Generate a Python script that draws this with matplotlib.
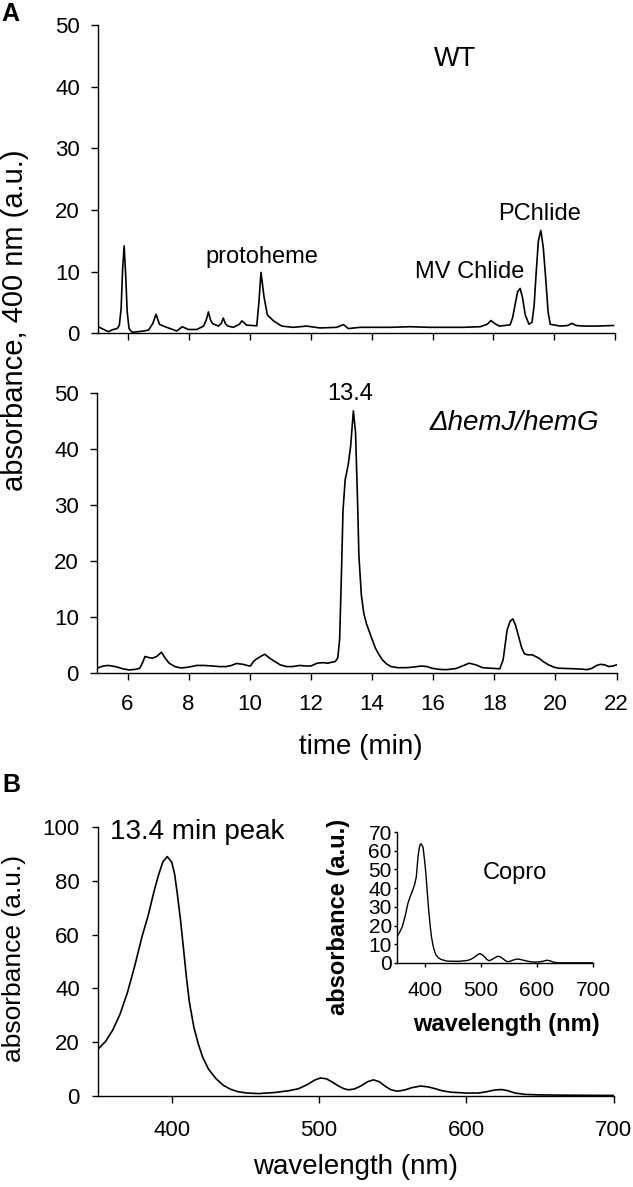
import matplotlib
matplotlib.use("Agg")
import matplotlib.pyplot as plt

plt.rcParams['font.family'] = ['Liberation Sans', 'DejaVu Sans']

# ---------------- data ----------------
# Panel A, WT chromatogram (time in min, absorbance at 400 nm)
wt_time = [5.0, 5.17, 5.34, 5.5, 5.63, 5.70, 5.76, 5.81, 5.86, 5.91, 5.96, 6.02, 6.10,
           6.16, 6.49, 6.66, 6.8, 6.91, 7.02, 7.15, 7.37, 7.59, 7.77, 7.97, 8.25, 8.47,
           8.56, 8.63, 8.70, 8.77, 8.96, 9.05, 9.12, 9.19, 9.27, 9.45, 9.65, 9.73, 9.81,
           9.89, 10.22, 10.29, 10.36, 10.42, 10.46, 10.57, 10.77, 11.04, 11.42, 11.86,
           12.3, 12.85, 13.07, 13.23, 13.62, 13.95, 14.6, 15.26, 15.9, 16.47, 17.0, 17.57,
           17.8, 17.92, 18.05, 18.2, 18.55, 18.63, 18.72, 18.80, 18.88, 18.96, 19.05,
           19.17, 19.27, 19.34, 19.41, 19.48, 19.56, 19.64, 19.72, 19.80, 19.87, 20.2,
           20.45, 20.58, 20.72, 20.96, 21.4, 21.95]
wt_abs = [1.1, 0.7, 0.3, 0.65, 0.8, 1.3, 4.0, 10.5, 14.2, 9.5, 3.5, 0.8, 0.3,
          0.2, 0.4, 0.55, 1.6, 3.1, 1.5, 1.2, 0.8, 0.4, 1.1, 0.65, 0.65, 1.2,
          2.2, 3.5, 2.2, 1.6, 1.2, 1.6, 2.5, 1.6, 1.2, 1.0, 1.5, 2.05, 1.7,
          1.35, 1.25, 5.0, 9.9, 7.5, 5.9, 3.0, 2.05, 1.2, 1.0, 1.2,
          0.9, 1.0, 1.45, 0.8, 1.0, 1.0, 1.0, 1.1, 1.0, 1.0, 1.0, 1.1,
          1.5, 2.1, 1.6, 1.2, 1.4, 2.5, 4.8, 6.8, 7.3, 5.8, 3.0,
          1.5, 1.8, 4.5, 10.0, 15.0, 16.7, 14.0, 9.0, 3.5, 1.5, 1.2,
          1.3, 1.65, 1.3, 1.2, 1.2, 1.3]

# Panel A, delta hemJ/hemG chromatogram
mut_time = [5.0, 5.2, 5.37, 5.6, 5.85, 6.05, 6.25, 6.4, 6.5, 6.57, 6.7, 6.82, 6.95,
            7.11, 7.22, 7.36, 7.55, 7.75, 8.0, 8.25, 8.5, 8.79, 9.0, 9.23, 9.4, 9.56,
            9.78, 9.95, 10.02, 10.12, 10.22, 10.35, 10.49, 10.65, 10.82, 11.0, 11.2,
            11.4, 11.64, 11.85, 12.0, 12.2, 12.4, 12.55, 12.7, 12.8, 12.88, 12.94,
            13.0, 13.05, 13.12, 13.22, 13.3, 13.39, 13.46, 13.53, 13.57, 13.65, 13.73,
            13.82, 13.92, 14.02, 14.11, 14.22, 14.34, 14.47, 14.62, 14.85, 15.1, 15.35,
            15.61, 15.8, 15.96, 16.2, 16.43, 16.75, 17.0, 17.18, 17.4, 17.62, 17.9,
            18.18, 18.29, 18.42, 18.52, 18.61, 18.7, 18.8, 18.9, 18.99, 19.1, 19.24,
            19.35, 19.46, 19.6, 19.78, 19.95, 20.11, 20.4, 20.66, 20.85, 21.04, 21.2,
            21.35, 21.48, 21.62, 21.75, 21.88, 22.0]
mut_abs = [0.9, 1.3, 1.4, 1.2, 0.8, 0.6, 0.7, 0.9, 2.0, 3.0, 2.8, 2.7, 3.0,
           3.75, 2.8, 1.8, 1.2, 0.95, 1.1, 1.4, 1.4, 1.3, 1.2, 1.2, 1.4, 1.75,
           1.6, 1.35, 1.3, 2.1, 2.55, 3.0, 3.4, 2.7, 2.1, 1.5, 1.2,
           1.2, 1.4, 1.3, 1.3, 1.8, 1.9, 1.8, 2.0, 2.1, 2.8, 6.0,
           18.0, 29.0, 34.5, 37.2, 40.5, 46.8, 43.0, 30.0, 21.0, 14.0, 10.7,
           8.8, 7.3, 5.8, 4.5, 3.4, 2.4, 1.7, 1.2, 1.0, 1.0, 1.1,
           1.3, 1.2, 0.9, 0.7, 0.65, 0.85, 1.4, 1.8, 1.5, 1.0, 0.9,
           0.8, 2.4, 7.7, 9.3, 9.7, 8.5, 6.5, 4.5, 3.45, 3.3, 3.3,
           3.0, 2.7, 2.1, 1.5, 1.1, 0.9, 0.85, 0.8, 0.75, 0.65, 0.9,
           1.4, 1.6, 1.5, 1.2, 1.3, 1.5]

# Panel B, absorption spectrum of the 13.4 min peak
peak_wl = [350, 355, 360, 365, 370, 375, 380, 384, 388, 391, 394, 397, 400, 402,
           404, 406, 408, 410, 412, 415, 418, 421, 425, 430, 435, 440, 445, 451,
           459, 470, 480, 486, 492, 497, 501, 505, 509, 513, 517, 520, 524, 528,
           533, 537, 541, 545, 549, 553, 558, 563, 569, 574, 579, 584, 590, 600,
           608, 613, 619, 624, 628, 633, 640, 650, 670, 700]
peak_abs = [17.4, 20.2, 24.5, 30.5, 38.5, 48.5, 59.5, 67.0, 76.0, 82.0, 87.0, 89.0,
            87.0, 82.5, 74.5, 65.5, 55.0, 44.3, 35.0, 25.8, 19.5, 14.5, 10.0, 6.5,
            4.0, 2.5, 1.6, 1.1, 0.9, 1.3, 2.0, 2.7, 4.2, 5.9, 6.7, 6.4, 5.2, 3.8,
            2.7, 2.3, 2.6, 3.6, 5.3, 6.0, 5.3, 3.6, 2.3, 1.8, 2.2, 3.1, 3.7, 3.4,
            2.7, 1.9, 1.4, 1.1, 1.1, 1.5, 2.2, 2.4, 2.0, 1.1, 0.6, 0.4, 0.3, 0.2]

# Inset, coproporphyrin standard spectrum
copro_wl = [350, 355, 360, 365, 370, 374, 378, 382, 385, 388, 390, 392, 394, 397,
            400, 402, 405, 407, 410, 412, 415, 418, 420, 425, 430, 440, 460, 475,
            482, 488, 494, 498, 502, 507, 511, 515, 520, 525, 530, 534, 539, 544,
            548, 553, 558, 563, 567, 573, 580, 588, 595, 605, 612, 618, 623, 630,
            640, 700]
copro_abs = [14.0, 16.3, 19.4, 25.0, 31.9, 35.5, 38.5, 42.0, 46.1, 56.8, 61.0, 63.5,
             63.6, 61.8, 54.0, 47.9, 36.0, 28.3, 19.0, 14.0, 9.0, 5.8, 4.3, 2.6,
             1.8, 1.0, 0.9, 1.3, 1.9, 3.0, 4.4, 5.0, 4.5, 3.2, 1.8, 1.2, 1.9, 2.8,
             3.6, 3.4, 2.4, 1.2, 0.7, 1.0, 1.6, 2.0, 2.1, 1.7, 1.2, 0.7, 0.5, 0.6,
             1.0, 1.5, 1.2, 0.4, 0.1, 0.1]

time_ticks = [6, 8, 10, 12, 14, 16, 18, 20, 22]
chrom_yticks = [0, 10, 20, 30, 40, 50]
wl_ticks = [400, 500, 600, 700]
spec_yticks = [0, 20, 40, 60, 80, 100]
inset_yticks = [0, 10, 20, 30, 40, 50, 60, 70]

# ---------------- layout ----------------
W, H = 633, 1187
fig = plt.figure(figsize=(W / 100, H / 100), dpi=100)


def box(x0, x1, ytop, ybot):
    return [x0 / W, 1 - ybot / H, (x1 - x0) / W, (ybot - ytop) / H]


def ftext(x, y, s, **kw):
    fig.text(x / W, 1 - y / H, s, **kw)


def style(ax, xlen=5, ylen=5, xpad=10, ypad=8, size=16):
    for side in ('top', 'right'):
        ax.spines[side].set_visible(False)
    for side in ('left', 'bottom'):
        ax.spines[side].set_linewidth(1.0)
    ax.tick_params(axis='x', direction='out', length=xlen, width=1.0, pad=xpad, labelsize=size)
    ax.tick_params(axis='y', direction='out', length=ylen, width=1.0, pad=ypad, labelsize=size)


LW = 1.2

# Panel A top: WT
ax1 = fig.add_axes(box(98, 615, 25, 333.5))
ax1.plot(wt_time, wt_abs, color='black', lw=LW)
ax1.set_xlim(5, 22)
ax1.set_ylim(0, 50)
ax1.set_xticks(time_ticks)
ax1.set_xticklabels([])
ax1.set_yticks(chrom_yticks)
style(ax1)

# Panel A bottom: mutant
ax2 = fig.add_axes(box(97, 616.5, 393, 673.3))
ax2.plot(mut_time, mut_abs, color='black', lw=LW)
ax2.set_xlim(5, 22)
ax2.set_ylim(0, 50)
ax2.set_xticks(time_ticks)
ax2.set_yticks(chrom_yticks)
style(ax2)

# Panel B main
ax3 = fig.add_axes(box(98, 613.6, 827, 1096))
ax3.plot(peak_wl, peak_abs, color='black', lw=LW)
ax3.set_xlim(350, 700)
ax3.set_ylim(0, 100)
ax3.set_xticks(wl_ticks)
ax3.set_yticks(spec_yticks)
style(ax3, ylen=4, ypad=9, xpad=12)

# Inset
ax4 = fig.add_axes(box(396.7, 593, 832, 963))
ax4.plot(copro_wl, copro_abs, color='black', lw=1.0)
ax4.set_xlim(350, 700)
ax4.set_ylim(0, 70)
ax4.set_xticks(wl_ticks)
ax4.set_yticks(inset_yticks)
style(ax4, xlen=3, ylen=2, xpad=10, ypad=1.5, size=15)

# ---------------- text ----------------
ftext(1, 2, 'A', fontsize=18, fontweight='bold', ha='left', va='top')
ftext(2, 773, 'B', fontsize=18, fontweight='bold', ha='left', va='top')

ftext(455, 58.5, 'WT', fontsize=19.5, ha='center', va='center')
ftext(262, 257, 'protoheme', fontsize=17, ha='center', va='center')
ftext(470, 272, 'MV Chlide', fontsize=17, ha='center', va='center')
ftext(540, 214, 'PChlide', fontsize=17, ha='center', va='center')
ftext(350, 394, '13.4', fontsize=17, ha='center', va='center')
ftext(514, 423, '\u0394hemJ/hemG', fontsize=20, fontstyle='italic', ha='center', va='center')

ftext(15, 320, 'absorbance, 400 nm (a.u.)', fontsize=21, rotation=90, ha='center', va='center')
ftext(361, 747, 'time (min)', fontsize=20, ha='center', va='center')

ftext(110, 832, '13.4 min peak', fontsize=20, ha='left', va='center')
ftext(515, 873, 'Copro', fontsize=17, ha='center', va='center')
ftext(506, 1025, 'wavelength (nm)', fontsize=17, fontweight='bold', ha='center', va='center')
ftext(339, 917, 'absorbance (a.u.)', fontsize=17, fontweight='bold', rotation=90,
      ha='center', va='center')

ftext(14, 958, 'absorbance (a.u.)', fontsize=19, rotation=90, ha='center', va='center')
ftext(356, 1167, 'wavelength (nm)', fontsize=20, ha='center', va='center')

fig.savefig('out.png', dpi=100, facecolor='white')
